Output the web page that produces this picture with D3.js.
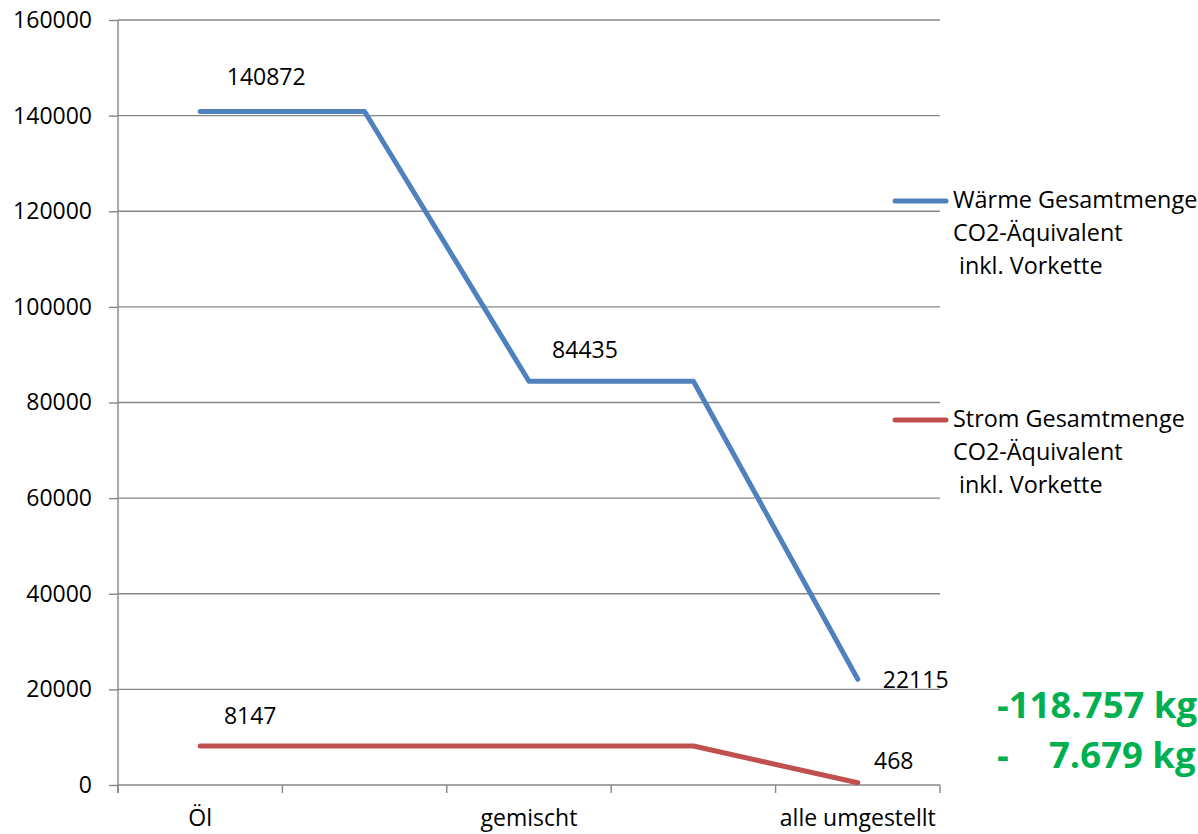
<!DOCTYPE html>
<html>
<head>
<meta charset="utf-8">
<script src="https://cdn.jsdelivr.net/npm/d3@7"></script>
<style>
  html, body { margin: 0; padding: 0; background: #ffffff; }
  svg { display: block; font-family: "Open Sans", "Noto Sans", sans-serif; }
  text { white-space: pre; }
</style>
</head>
<body>
<svg id="chart" width="1198" height="834"></svg>
<script>
// Szenarien auf der x-Achse (nur jede zweite Kategorie ist beschriftet)
const categories = ["Öl", "", "gemischt", "", "alle umgestellt"];

// CO2-Äquivalent inkl. Vorkette in kg
const waermeValues = [140872, 140872, 84435, 84435, 22115];
const stromValues = [8147, 8147, 8147, 8147, 468];

const yTicks = [0, 20000, 40000, 60000, 80000, 100000, 120000, 140000, 160000];

const waermeLegend = ["Wärme Gesamtmenge", "CO2-Äquivalent", " inkl. Vorkette"];
const stromLegend = ["Strom Gesamtmenge", "CO2-Äquivalent", " inkl. Vorkette"];

// Einsparungen
const savingsWaerme = "-118.757 kg";
const savingsStrom = "7.679 kg";

const svg = d3.select("#chart");
const plot = { left: 118, right: 940, top: 20, bottom: 785 };

const x = d3.scaleBand()
  .domain(d3.range(categories.length))
  .range([plot.left, plot.right])
  .padding(0);
const cx = i => x(i) + x.bandwidth() / 2;

const y = d3.scaleLinear()
  .domain([0, 160000])
  .range([plot.bottom, plot.top]);

const axisColor = "#868686";

// horizontale Gitterlinien
svg.append("g")
  .selectAll("line")
  .data(yTicks)
  .join("line")
  .attr("x1", plot.left)
  .attr("x2", plot.right)
  .attr("y1", d => y(d))
  .attr("y2", d => y(d))
  .attr("stroke", axisColor)
  .attr("stroke-width", 1.4);

// y-Achse
const yAxis = svg.append("g")
  .attr("transform", `translate(${plot.left},0)`)
  .call(d3.axisLeft(y).tickValues(yTicks).tickSize(9).tickPadding(17).tickFormat(d3.format("d")));
yAxis.select(".domain").remove();
yAxis.selectAll(".tick line").attr("stroke", axisColor).attr("stroke-width", 1.4);
yAxis.selectAll(".tick text")
  .attr("fill", "#000")
  .style("font-size", "23px")
  .style("font-family", "'Open Sans', sans-serif");
svg.append("line")
  .attr("x1", plot.left).attr("x2", plot.left)
  .attr("y1", plot.top).attr("y2", plot.bottom + 8)
  .attr("stroke", axisColor).attr("stroke-width", 1.4);

// x-Achse mit Teilstrichen an den Kategoriegrenzen
const edges = d3.range(categories.length).map(i => x(i)).concat([x(categories.length - 1) + x.bandwidth()]);
svg.append("g")
  .selectAll("line")
  .data(edges)
  .join("line")
  .attr("x1", d => d).attr("x2", d => d)
  .attr("y1", plot.bottom).attr("y2", plot.bottom + 8)
  .attr("stroke", axisColor).attr("stroke-width", 1.4);

svg.append("g")
  .selectAll("text")
  .data(categories)
  .join("text")
  .attr("x", (d, i) => cx(i))
  .attr("y", 826)
  .attr("text-anchor", "middle")
  .style("font-size", "23px")
  .text(d => d);

// Linien
const line = d3.line()
  .x((d, i) => cx(i))
  .y(d => y(d));

const series = [
  { values: waermeValues, color: "#4F81BD" },
  { values: stromValues, color: "#C0504D" }
];

svg.append("g")
  .selectAll("path")
  .data(series)
  .join("path")
  .attr("d", d => line(d.values))
  .attr("fill", "none")
  .attr("stroke", d => d.color)
  .attr("stroke-width", 5)
  .attr("stroke-linecap", "round")
  .attr("stroke-linejoin", "round");

// Datenbeschriftungen
const dataLabels = [
  { values: waermeValues, i: 0, dx: 66, dy: -26, anchor: "middle" },
  { values: waermeValues, i: 2, dx: 56, dy: -23, anchor: "middle" },
  { values: waermeValues, i: 4, dx: 25, dy: 9, anchor: "start" },
  { values: stromValues, i: 0, dx: 50, dy: -22, anchor: "middle" },
  { values: stromValues, i: 4, dx: 36, dy: -14, anchor: "middle" }
];

svg.append("g")
  .selectAll("text")
  .data(dataLabels)
  .join("text")
  .attr("x", d => cx(d.i) + d.dx)
  .attr("y", d => y(d.values[d.i]) + d.dy)
  .attr("text-anchor", d => d.anchor)
  .style("font-size", "23px")
  .text(d => d.values[d.i]);

// Legende
function legendEntry(lines, color, top) {
  const g = svg.append("g");
  g.append("line")
    .attr("x1", 895).attr("x2", 946)
    .attr("y1", top).attr("y2", top)
    .attr("stroke", color)
    .attr("stroke-width", 5)
    .attr("stroke-linecap", "round");
  g.selectAll("text")
    .data(lines)
    .join("text")
    .attr("x", 953)
    .attr("y", (d, k) => top + 7 + k * 33)
    .style("font-size", "23.4px")
    .text(d => d);
}
legendEntry(waermeLegend, "#4F81BD", 201);
legendEntry(stromLegend, "#C0504D", 420);

// Einsparungen (grün, fett)
const green = "#00B050";
const sav = svg.append("g")
  .attr("fill", green)
  .style("font-weight", "700")
  .style("font-size", "36.5px");
sav.append("text").attr("x", 997).attr("y", 718).text(savingsWaerme);
sav.append("text").attr("x", 997).attr("y", 768).text("-");
sav.append("text").attr("x", 1049).attr("y", 768).text(savingsStrom);
</script>
</body>
</html>
